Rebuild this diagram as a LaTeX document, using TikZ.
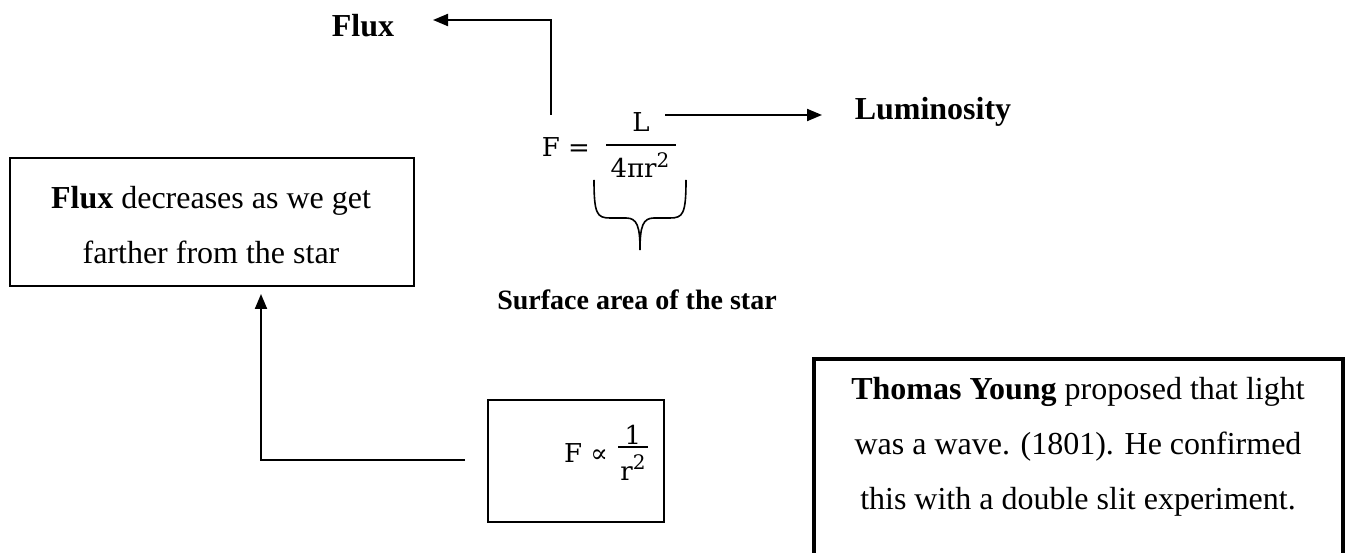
\documentclass[tikz,border=0pt]{standalone}
\usepackage{fontspec}
\setmainfont{Liberation Serif}
\newfontfamily\eqfont{DejaVu Serif}
\usetikzlibrary{arrows.meta}
\newcommand{\bigsup}[1]{\raisebox{0.42em}{\fontsize{20}{23}\selectfont #1}}
\begin{document}
\begin{tikzpicture}[x=1pt,y=-1pt,
  txt/.style={inner sep=0pt, font=\fontsize{32}{55}\selectfont, align=center},
  lbl/.style={inner sep=0pt, font=\fontsize{32}{40}\selectfont\bfseries},
  eqtxt/.style={inner sep=0pt, font=\eqfont\fontsize{26}{30}\selectfont},
  conn/.style={line width=2pt, -{Triangle[length=15pt,width=12pt]}},
  plain/.style={line width=2pt},
  boxthin/.style={draw, line width=2pt},
  boxthick/.style={draw, line width=4pt}]
\useasboundingbox (0,0) rectangle (1352,553);

% top labels
\node[lbl] (flux) at (363,26) {Flux};
\node[lbl] (lum) at (933,112) {Luminosity};
\node[lbl, font=\fontsize{28}{34}\selectfont\bfseries] (surf) at (637,300) {Surface area of the star};

% equation
\node[eqtxt, anchor=base] (eqF) at (566,157) {F =};
\node[eqtxt, anchor=base] (num) at (641,132) {L};
\node[eqtxt, anchor=base] (den) at (640,178) {4πr\bigsup{2}};
\draw[plain] (606,145) -- (676,145);
\coordinate (bl) at (594,180);
\coordinate (br) at (686,180);
\coordinate (btip) at (640,250);
\draw[line width=1.6pt] (bl) .. controls (594,214) and (597,218) .. (610,218) -- (626,218)
   .. controls (637,218) and (640,226) .. (btip);
\draw[line width=1.6pt] (br) .. controls (686,214) and (683,218) .. (670,218) -- (654,218)
   .. controls (643,218) and (640,226) .. (btip);

% connectors at top
\coordinate (fstart) at (551,115);
\coordinate (fcorner) at (551,20);
\coordinate (fend) at (433,20);
\draw[conn] (fstart) -- (fcorner) -- (fend);
\coordinate (lstart) at (665,115);
\coordinate (lend) at (822,115);
\draw[conn] (lstart) -- (lend);

% flux box
\node[boxthin, minimum width=404, minimum height=128, anchor=north west] (fluxbox) at (9,157) {};
\node[txt] (fluxtxt) at (211,225) {\textbf{Flux} decreases as we get\\farther from the star};

% proportional box
\node[boxthin, minimum width=176, minimum height=122, anchor=north west] (propbox) at (487,399) {};
\node[eqtxt, anchor=base] (propF) at (586,462) {F ∝};
\node[eqtxt, anchor=base] (one) at (633,444) {1};
\node[eqtxt, anchor=base] (rsq) at (633,480) {r\bigsup{2}};
\draw[plain] (618,447) -- (648,447);

% arrow to flux box
\coordinate (pstart) at (465,460);
\coordinate (pcorner) at (261,460);
\coordinate (pend) at (261,294);
\draw[conn] (pstart) -- (pcorner) -- (pend);

% Young box
\node[boxthick, minimum width=529, minimum height=260, anchor=north west] (youngbox) at (812,357) {};
\node[txt] (young) at (1078,447) {\textbf{Thomas Young} proposed that light\\was a wave. (1801). He confirmed\\this with a double slit experiment.};
\end{tikzpicture}
\end{document}
